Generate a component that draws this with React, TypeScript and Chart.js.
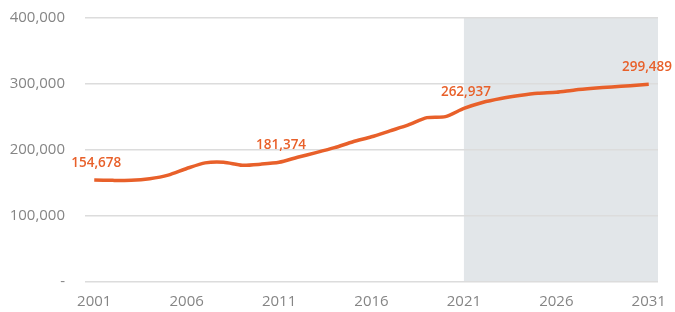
import React, { useEffect, useRef } from "react";
import { Chart, registerables } from "chart.js";

Chart.register(...registerables);

const years: string[] = [
  "2001","2002","2003","2004","2005","2006","2007","2008","2009","2010",
  "2011","2012","2013","2014","2015","2016","2017","2018","2019","2020",
  "2021","2022","2023","2024","2025","2026","2027","2028","2029","2030","2031",
];
const population: number[] = [
  154678, 154000, 154000, 156500, 162000, 172000, 180500, 181500, 177000, 178500,
  181374, 189000, 196000, 203500, 212500, 220000, 229000, 238000, 249000, 250500,
  262937, 272000, 278000, 282500, 286000, 287500, 291000, 293500, 295500, 297500, 299489,
];
const labelledYears: string[] = ["2001", "2011", "2021", "2031"];
const projectionStart = "2021";
const yTicks: number[] = [0, 100000, 200000, 300000, 400000];

const ORANGE = "#E8602A";
const FONT = "'Open Sans', 'Noto Sans', sans-serif";
const CLEAR = "rgba(0,0,0,0)";

export default function App() {
  const ref = useRef<HTMLCanvasElement | null>(null);

  useEffect(() => {
    document.body.style.margin = "0";
    const canvas = ref.current;
    if (!canvas) return;

    const shadePlugin = {
      id: "shade",
      beforeDraw(chart: any) {
        const { ctx, chartArea, scales } = chart;
        const x0 = scales.x.getPixelForValue(years.indexOf(projectionStart));
        ctx.save();
        ctx.fillStyle = "#E2E6E9";
        ctx.fillRect(x0, chartArea.top, chartArea.right - x0, chartArea.bottom - chartArea.top);
        ctx.restore();
      },
    };

    const labelPlugin = {
      id: "valueLabels",
      afterDatasetsDraw(chart: any) {
        const { ctx, scales, width } = chart;
        ctx.save();
        ctx.fillStyle = ORANGE;
        ctx.font = `600 13.5px ${FONT}`;
        ctx.textAlign = "center";
        ctx.textBaseline = "bottom";
        labelledYears.forEach((yr) => {
          const i = years.indexOf(yr);
          const v = population[i];
          const text = v.toLocaleString("en-US");
          const half = ctx.measureText(text).width / 2;
          const x = Math.min(scales.x.getPixelForValue(i) + 2, width - half - 3);
          const y = scales.y.getPixelForValue(v);
          ctx.fillText(text, x, y - 10);
        });
        ctx.restore();
      },
    };

    const chart = new Chart(canvas, {
      type: "line",
      data: {
        labels: years,
        datasets: [
          {
            data: population,
            borderColor: ORANGE,
            borderWidth: 3.5,
            pointRadius: 0,
            tension: 0.25,
            fill: false,
          },
        ],
      },
      options: {
        animation: false,
        responsive: false,
        maintainAspectRatio: false,
        layout: { padding: { top: 18, right: 17, left: 0, bottom: 0 } },
        plugins: {
          legend: { display: false },
          tooltip: { enabled: false },
        },
        scales: {
          x: {
            type: "category",
            offset: true,
            grid: { display: true, color: CLEAR, tickColor: CLEAR, drawTicks: true, tickLength: 11, offset: false },
            border: { display: false },
            ticks: {
              autoSkip: false,
              maxRotation: 0,
              padding: 0,
              color: "#858585",
              font: { family: FONT, size: 15 },
              callback: (_v: any, i: number) => ((i % 5) === 0 ? years[i] : ""),
            },
            afterFit: (s: any) => { s.height = 30; },
          },
          y: {
            min: 0,
            max: 400000,
            afterBuildTicks: (s: any) => { s.ticks = yTicks.map((v) => ({ value: v })); },
            grid: { color: "#DCDCDC", lineWidth: 1.5, drawTicks: true, tickLength: 20, tickColor: CLEAR },
            border: { display: false },
            ticks: {
              padding: 0,
              color: "#858585",
              font: { family: FONT, size: 15 },
              callback: (v: any) => (Number(v) === 0 ? "-" : Number(v).toLocaleString("en-US")),
            },
            afterFit: (s: any) => { s.width = 85; },
          },
        },
      },
      plugins: [shadePlugin, labelPlugin],
    });

    return () => chart.destroy();
  }, []);

  return (
    <div style={{ width: 675, height: 312, position: "relative" }}>
      <canvas ref={ref} width={675} height={312} style={{ display: "block" }} />
    </div>
  );
}
